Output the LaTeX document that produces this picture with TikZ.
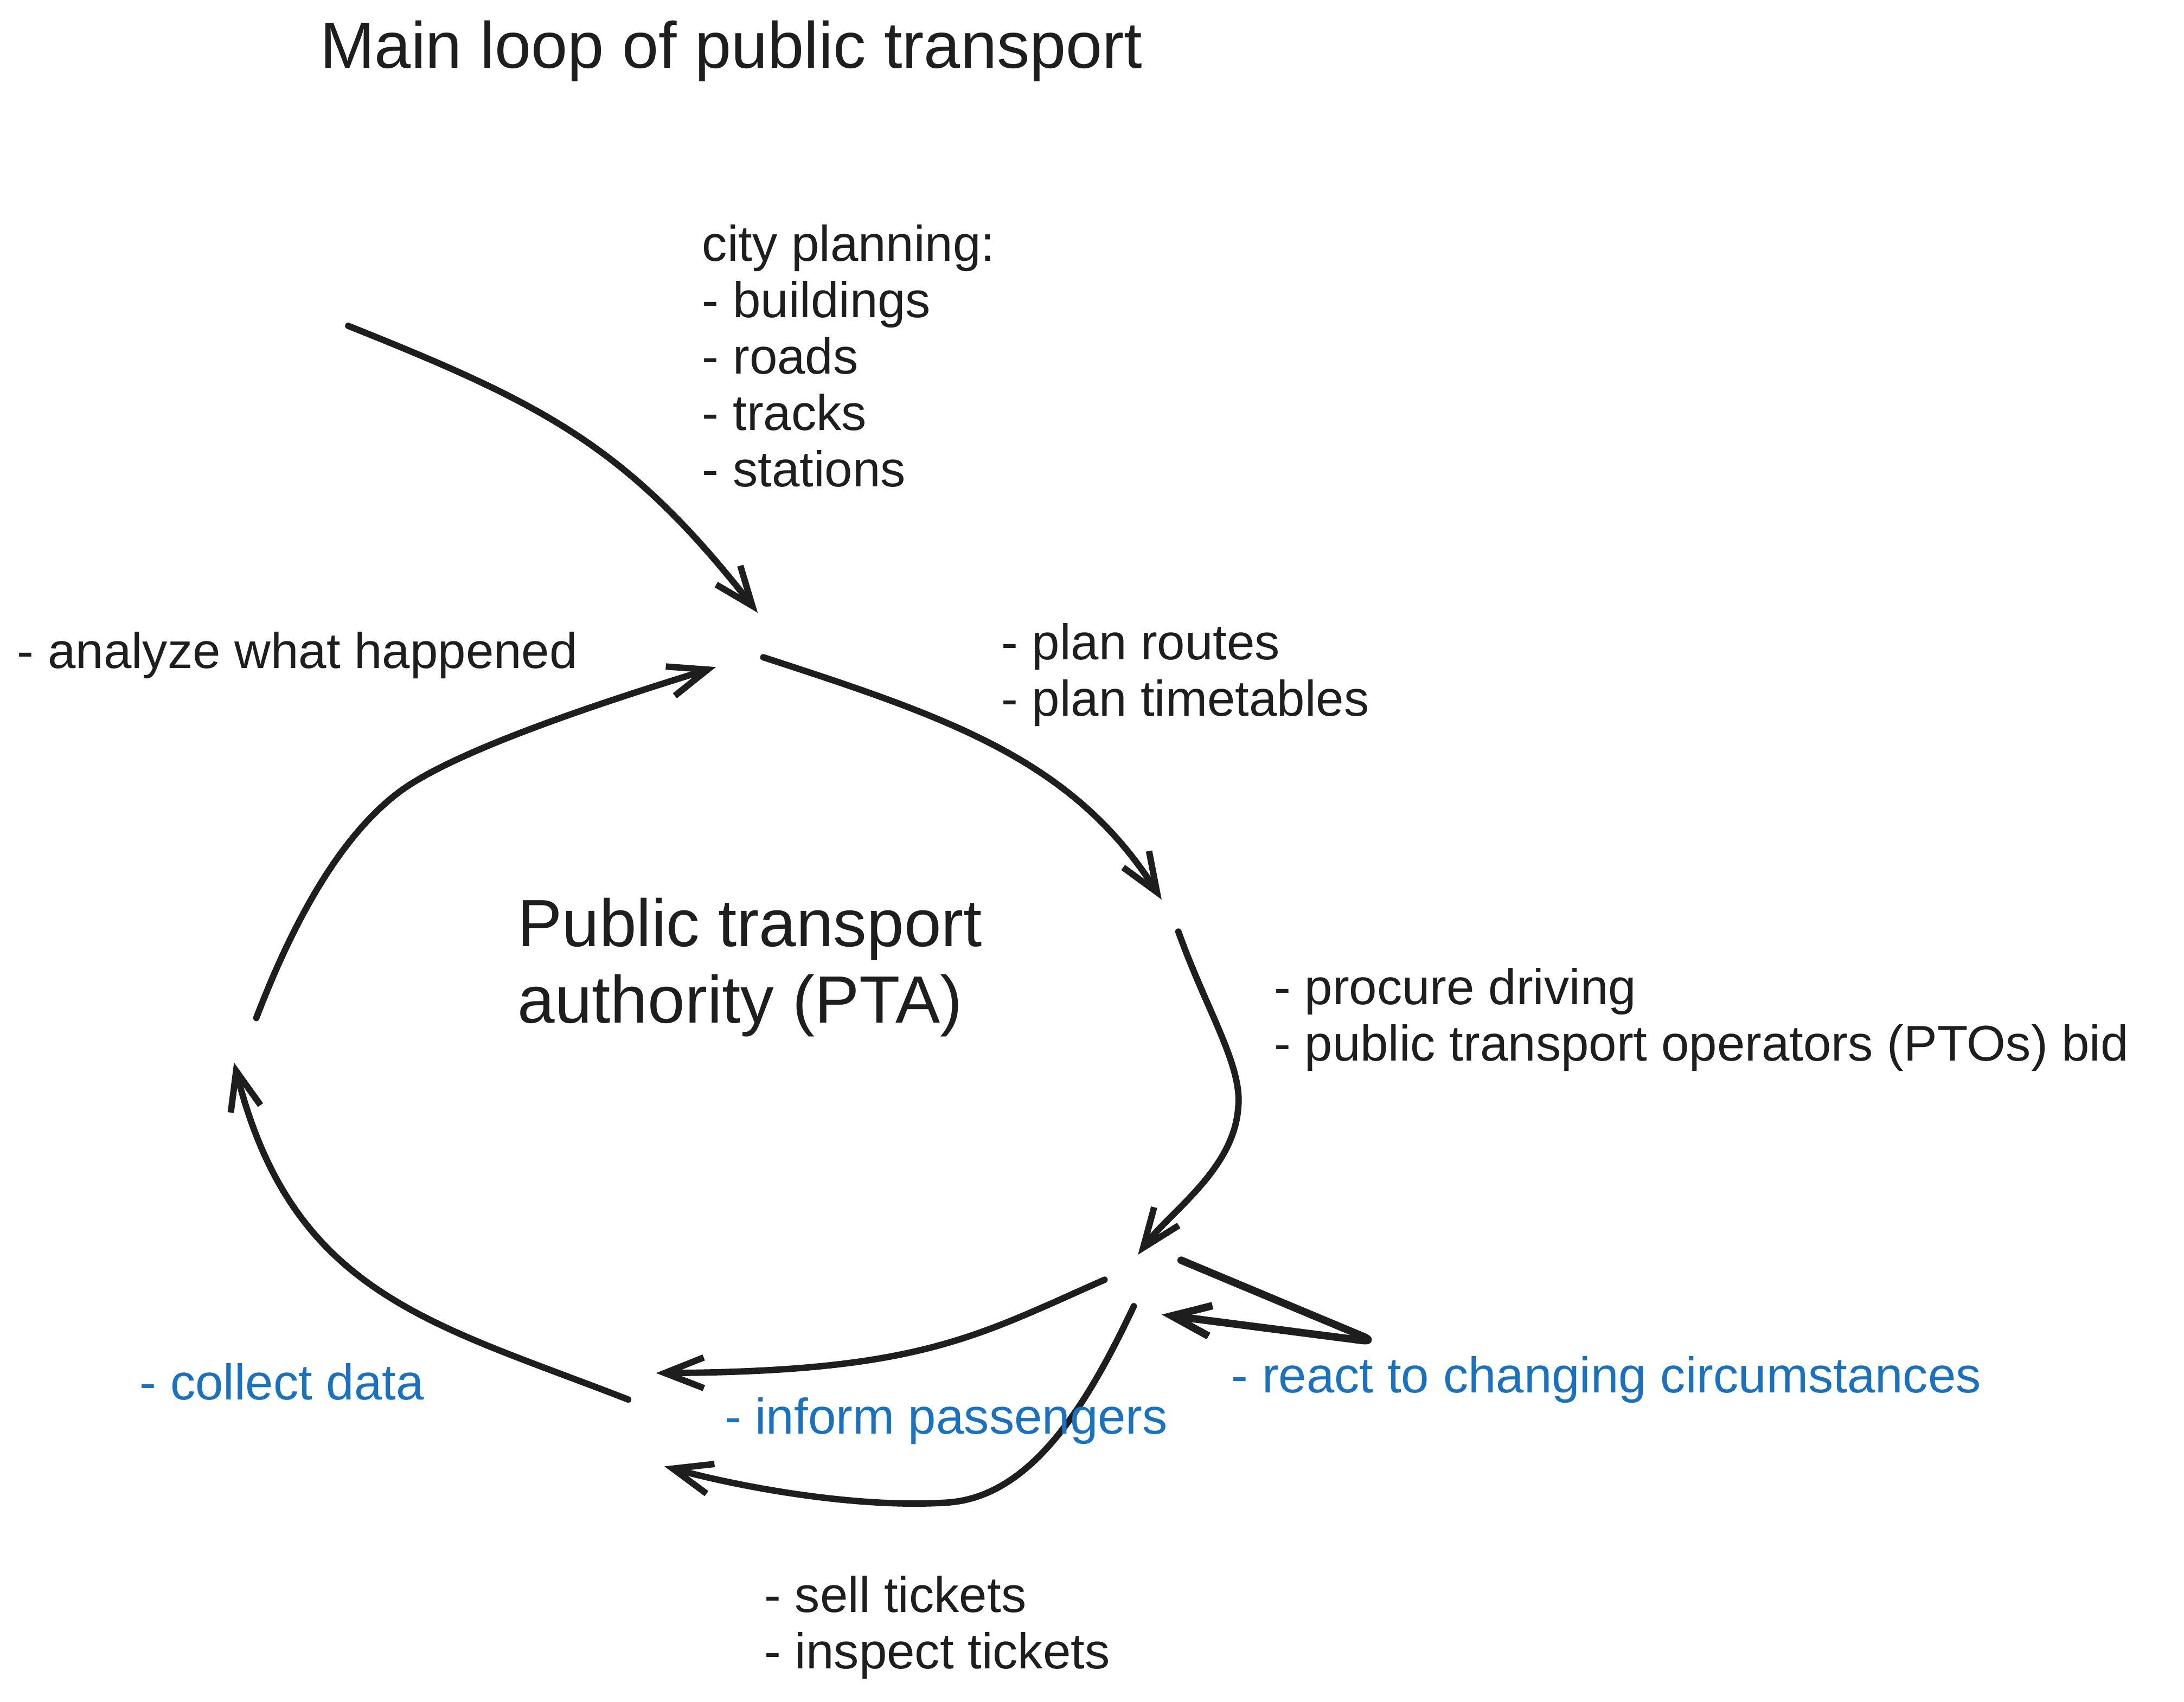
\documentclass[tikz,border=0pt]{standalone}
\usepackage{fontspec}
\setmainfont{Liberation Sans}
\usepackage{tikz}
\usetikzlibrary{arrows.meta}
\definecolor{ink}{HTML}{1E1E1E}
\definecolor{inkblue}{HTML}{1971C2}

\begin{document}
\begin{tikzpicture}[x=0.5pt,y=0.5pt,yscale=-1,xscale=1,
  flow/.style={draw=ink,line width=2.3pt,line cap=round,line join=round,-{Straight Barb[length=14pt,width=11pt]}},
  note/.style={anchor=base west,inner sep=0pt,align=left,text=ink,font=\fontsize{18}{20.25}\selectfont},
  task/.style={note,text=inkblue}]
\useasboundingbox (0,0) rectangle (1568,1222); %set diagram to the size of the sketch

%Points where the loop arrows start and end
\coordinate (cityS) at (250,234);
\coordinate (topIn) at (544,440);
\coordinate (topOut) at (548,472);
\coordinate (topBack) at (514,479);
\coordinate (rightIn) at (834,646);
\coordinate (rightOut) at (846,669);
\coordinate (lowIn) at (817,901);
\coordinate (lowLoop) at (848,905);
\coordinate (loopTip) at (989,964);
\coordinate (lowBack) at (834,944);
\coordinate (lowInform) at (793,919);
\coordinate (lowTickets) at (814,938);
\coordinate (botInform) at (471,986);
\coordinate (botTickets) at (477,1053);
\coordinate (botOut) at (451,1005);
\coordinate (leftIn) at (168,763);
\coordinate (leftOut) at (184,731);

%Curve Lines: city planning
\draw[flow] (cityS) .. controls (390,290) and (450,320) .. (topIn);
%Curve Lines: plan
\draw[flow] (topOut) .. controls (680,515) and (770,545) .. (rightIn);
%Curve Lines: procure
\draw[flow] (rightOut) .. controls (866,725) and (892,765) .. (889,795) .. controls (886,840) and (840,870) .. (lowIn);
%Straight Lines: react
\draw[flow,line width=2.7pt,rounded corners=6pt] (lowLoop) -- (loopTip) -- (lowBack);
%Curve Lines: inform
\draw[flow] (lowInform) .. controls (700,960) and (660,985) .. (botInform);
%Curve Lines: tickets
\draw[flow] (lowTickets) .. controls (780,1010) and (740,1075) .. (680,1079) .. controls (620,1083) and (540,1070) .. (botTickets);
%Curve Lines: collect
\draw[flow] (botOut) .. controls (310,950) and (210,930) .. (leftIn);
%Curve Lines: analyze
\draw[flow] (leftOut) .. controls (215,650) and (250,595) .. (289,567) .. controls (330,538) and (430,505) .. (topBack);

% Text Node
\node[note,font=\fontsize{23.5}{28}\selectfont] (title) at (229.5,49) {Main loop of public transport};
% Text Node
\node[note] (city) at (503.8,349.4) {city planning:\\- buildings\\- roads\\- tracks\\- stations};
% Text Node
\node[note] (analyze) at (12,479.8) {- analyze what happened};
% Text Node
\node[note] (plan) at (718.5,514) {- plan routes\\- plan timetables};
% Text Node
\node[note] (procure) at (914.3,761.7) {- procure driving\\- public transport operators (PTOs) bid};
% Text Node
\node[note,font=\fontsize{24}{27.5}\selectfont] (pta) at (371.3,734.6) {Public transport\\authority (PTA)};
% Text Node
\node[task] (react) at (883.7,1000) {- react to changing circumstances};
% Text Node
\node[task] (collect) at (100,1005) {- collect data};
% Text Node
\node[task] (inform) at (519.8,1029.5) {- inform passengers};
% Text Node
\node[note] (tickets) at (548.4,1198.4) {- sell tickets\\- inspect tickets};

\end{tikzpicture}
\end{document}
